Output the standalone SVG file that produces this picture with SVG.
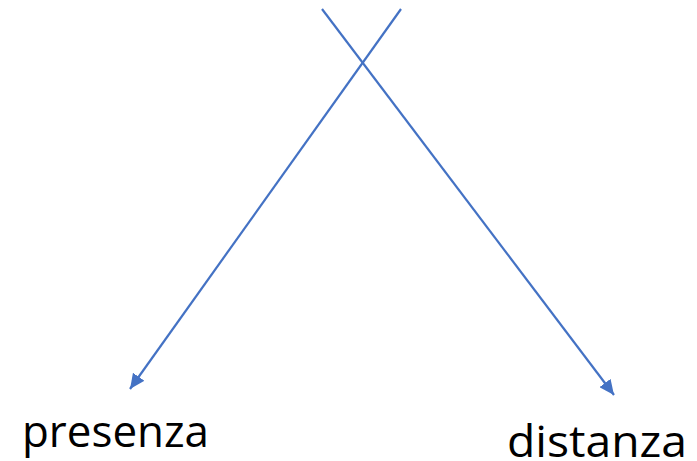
<svg xmlns="http://www.w3.org/2000/svg" width="697" height="461" viewBox="0 0 697 461">
<style>
.conn{stroke:#4472C4;stroke-width:2.2;fill:none}
.lbl{font-family:"Open Sans","Liberation Sans",sans-serif;font-size:43px;fill:#000}
</style>
<defs>
<marker id="arr" markerUnits="userSpaceOnUse" markerWidth="16" markerHeight="14" refX="15" refY="7" orient="auto">
<path d="M0,0 L15,7 L0,14 Z" fill="#4472C4"/>
</marker>
</defs>
<rect width="697" height="461" fill="#fff"/>
<g id="connectors">
<line class="conn" x1="322" y1="9" x2="614" y2="395" marker-end="url(#arr)"/>
<line class="conn" x1="401" y1="9" x2="130" y2="389" marker-end="url(#arr)"/>
</g>
<g id="presenza"><text class="lbl" x="22" y="447" textLength="187" lengthAdjust="spacingAndGlyphs">presenza</text></g>
<g id="distanza"><text class="lbl" x="507" y="457" textLength="180" lengthAdjust="spacingAndGlyphs">distanza</text></g>
</svg>
